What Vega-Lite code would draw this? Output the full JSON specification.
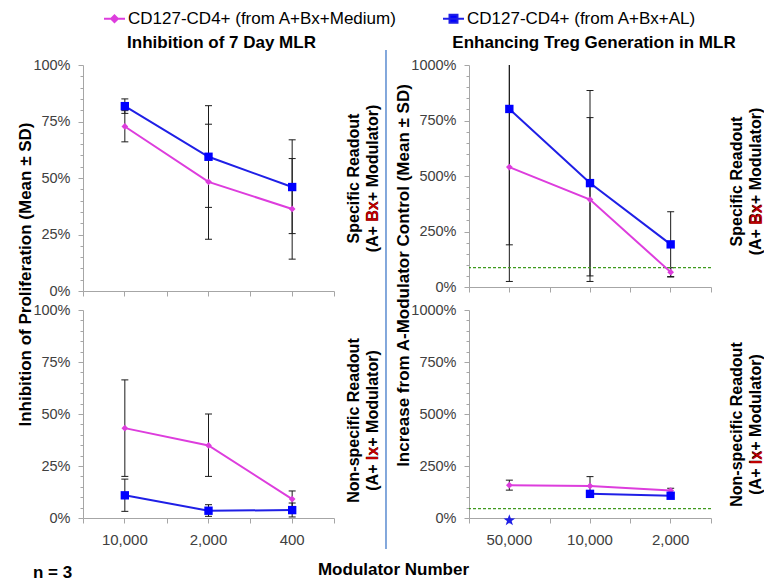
{
  "$schema": "https://vega.github.io/schema/vega-lite/v6.json",
  "padding": {"left": 15, "top": 7, "right": 0, "bottom": 0},
  "background": "white",
  "datasets": {
    "tl": [
      {"dose": "10,000", "series": "CD127-CD4+ (from A+Bx+Medium)", "mean": 72.8, "lo": 66, "hi": 79.8},
      {"dose": "2,000", "series": "CD127-CD4+ (from A+Bx+Medium)", "mean": 48.3, "lo": 22.9, "hi": 73.8},
      {"dose": "400", "series": "CD127-CD4+ (from A+Bx+Medium)", "mean": 36.3, "lo": 14.1, "hi": 58.6},
      {"dose": "10,000", "series": "CD127-CD4+ (from A+Bx+AL)", "mean": 81.8, "lo": 78.6, "hi": 85},
      {"dose": "2,000", "series": "CD127-CD4+ (from A+Bx+AL)", "mean": 59.4, "lo": 37, "hi": 82},
      {"dose": "400", "series": "CD127-CD4+ (from A+Bx+AL)", "mean": 46, "lo": 25.4, "hi": 66.9}
    ],
    "bl": [
      {"dose": "10,000", "series": "CD127-CD4+ (from A+Bx+Medium)", "mean": 43.2, "lo": 20, "hi": 66.4},
      {"dose": "2,000", "series": "CD127-CD4+ (from A+Bx+Medium)", "mean": 34.9, "lo": 20, "hi": 50},
      {"dose": "400", "series": "CD127-CD4+ (from A+Bx+Medium)", "mean": 9.1, "lo": 5.5, "hi": 13},
      {"dose": "10,000", "series": "CD127-CD4+ (from A+Bx+AL)", "mean": 10.9, "lo": 3.2, "hi": 18.7},
      {"dose": "2,000", "series": "CD127-CD4+ (from A+Bx+AL)", "mean": 3.5, "lo": 0.8, "hi": 6.4},
      {"dose": "400", "series": "CD127-CD4+ (from A+Bx+AL)", "mean": 3.8, "lo": 0.5, "hi": 7.2}
    ],
    "tr": [
      {"dose": "50,000", "series": "CD127-CD4+ (from A+Bx+Medium)", "mean": 540, "lo": 25, "hi": 1055},
      {"dose": "10,000", "series": "CD127-CD4+ (from A+Bx+Medium)", "mean": 394, "lo": 25, "hi": 763},
      {"dose": "2,000", "series": "CD127-CD4+ (from A+Bx+Medium)", "mean": 67, "lo": 47, "hi": 87},
      {"dose": "50,000", "series": "CD127-CD4+ (from A+Bx+AL)", "mean": 802, "lo": 190, "hi": 1414},
      {"dose": "10,000", "series": "CD127-CD4+ (from A+Bx+AL)", "mean": 468, "lo": 50, "hi": 885},
      {"dose": "2,000", "series": "CD127-CD4+ (from A+Bx+AL)", "mean": 192, "lo": 45, "hi": 339}
    ],
    "br": [
      {"dose": "50,000", "series": "CD127-CD4+ (from A+Bx+Medium)", "mean": 158, "lo": 134, "hi": 182},
      {"dose": "10,000", "series": "CD127-CD4+ (from A+Bx+Medium)", "mean": 154, "lo": 109, "hi": 199},
      {"dose": "2,000", "series": "CD127-CD4+ (from A+Bx+Medium)", "mean": 132, "lo": 121, "hi": 143},
      {"dose": "10,000", "series": "CD127-CD4+ (from A+Bx+AL)", "mean": 116, "lo": 106, "hi": 126},
      {"dose": "2,000", "series": "CD127-CD4+ (from A+Bx+AL)", "mean": 107, "lo": 97, "hi": 117}
    ],
    "brStar": [
      {"dose": "50,000", "series": "CD127-CD4+ (from A+Bx+AL)", "value": -11}
    ]
  },
  "columns": 2,
  "spacing": {"row": 19, "column": 135},
  "bounds": "flush",
  "concat": [
    {
      "width": 251, "height": 226,
      "title": {"text": "Inhibition of  7 Day MLR", "frame": "group", "anchor": "middle", "dx": 13, "offset": 5},
      "data": {"name": "tl"},
      "layer": [
        {"mark": {"type": "rule", "color": "#1a1a1a", "strokeWidth": 1, "clip": true},
         "encoding": {
           "x": {"field": "dose", "type": "ordinal", "sort": ["10,000", "2,000", "400"], "scale": {"type": "band", "domain": ["10,000", "2,000", "400"], "paddingInner": 0, "paddingOuter": 0}, "axis": {"orient": "bottom", "labels": false, "title": null, "tickSize": 5}},
           "y": {"field": "lo", "type": "quantitative", "scale": {"domain": [0, 100]}, "axis": {"orient": "left", "values": [0, 25, 50, 75, 100], "labelExpr": "datum.value + '%'", "tickSize": 5, "labelPadding": 8, "title": "Inhibition of Proliferation (Mean ± SD)", "titleAngle": 270, "titleX": -58, "titleY": 209, "titleAlign": "center", "titleBaseline": "middle"}},
           "y2": {"field": "hi"}}},
        {"mark": {"type": "tick", "orient": "horizontal", "color": "#1a1a1a", "size": 7, "thickness": 1, "opacity": 1, "clip": true},
         "encoding": {
           "x": {"field": "dose", "type": "ordinal", "sort": ["10,000", "2,000", "400"], "scale": {"type": "band", "domain": ["10,000", "2,000", "400"], "paddingInner": 0, "paddingOuter": 0}, "axis": {"orient": "bottom", "tickBand": "extent", "labels": false, "domain": false, "title": null, "tickSize": 5}},
           "y": {"field": "lo", "type": "quantitative", "scale": {"domain": [0, 100]}, "axis": {"orient": "left", "values": [5, 10, 15, 20, 30, 35, 40, 45, 55, 60, 65, 70, 80, 85, 90, 95], "labels": false, "domain": false, "title": null, "tickSize": 3}}}},
        {"mark": {"type": "tick", "orient": "horizontal", "color": "#1a1a1a", "size": 7, "thickness": 1, "opacity": 1, "clip": true},
         "encoding": {
           "x": {"field": "dose", "type": "ordinal", "sort": ["10,000", "2,000", "400"], "scale": {"type": "band", "domain": ["10,000", "2,000", "400"], "paddingInner": 0, "paddingOuter": 0}, "axis": {"orient": "top", "labels": false, "ticks": false, "domain": false, "title": "Bx", "titleColor": "#c00000", "titleFontSize": 16, "titleAngle": 270, "titleX": 289, "titleY": 146, "titleAlign": "center", "titleBaseline": "middle", "zindex": 2}},
           "y": {"field": "hi", "type": "quantitative", "scale": {"domain": [0, 100]}, "axis": {"orient": "right", "labels": false, "ticks": false, "domain": false, "title": ["Specific Readout", "(A+ Bx+ Modulator)"], "titleFontSize": 16, "titleAngle": 270, "titleX": 19, "titleY": 113, "titleAlign": "center", "titleBaseline": "middle", "titleLineHeight": 19, "zindex": 1}}}},
        {"mark": {"type": "line", "strokeWidth": 2},
         "encoding": {
           "x": {"field": "dose", "type": "ordinal", "sort": ["10,000", "2,000", "400"], "scale": {"type": "band", "domain": ["10,000", "2,000", "400"], "paddingInner": 0, "paddingOuter": 0}, "axis": null},
           "y": {"field": "mean", "type": "quantitative", "scale": {"domain": [0, 100]}, "axis": null},
           "color": {"field": "series", "type": "nominal", "scale": {"domain": ["CD127-CD4+ (from A+Bx+Medium)", "CD127-CD4+ (from A+Bx+AL)"], "range": ["#dd3ddd", "#1f1fe6"]},
             "legend": {"orient": "none", "legendX": 20, "legendY": -58, "direction": "horizontal", "title": null, "labelFontSize": 17, "labelLimit": 0, "labelColor": "#000000", "symbolSize": 441, "symbolStrokeWidth": 2, "columnPadding": 42, "labelOffset": 2,
               "encoding": {"symbols": {
                 "shape": {"value": {"expr": "datum.value === 'CD127-CD4+ (from A+Bx+AL)' ? 'M-1,0H1M-0.38,-0.38H0.38V0.38H-0.38Z' : 'M-1,0H1M0,-0.32L0.32,0L0,0.32L-0.32,0Z'"}},
                 "fill": {"value": {"expr": "datum.value === 'CD127-CD4+ (from A+Bx+AL)' ? '#0000ff' : '#dd3ddd'"}},
                 "stroke": {"value": {"expr": "datum.value === 'CD127-CD4+ (from A+Bx+AL)' ? '#1f1fe6' : '#dd3ddd'"}},
                 "strokeWidth": {"value": 2}}}}}}},
        {"transform": [{"filter": {"field": "series", "equal": "CD127-CD4+ (from A+Bx+Medium)"}}],
         "mark": {"type": "point", "filled": true, "opacity": 1, "shape": "diamond", "size": 45, "color": "#dd3ddd"},
         "encoding": {
           "x": {"field": "dose", "type": "ordinal", "sort": ["10,000", "2,000", "400"], "scale": {"type": "band", "domain": ["10,000", "2,000", "400"], "paddingInner": 0, "paddingOuter": 0}, "axis": null},
           "y": {"field": "mean", "type": "quantitative", "scale": {"domain": [0, 100]}, "axis": null}}},
        {"transform": [{"filter": {"field": "series", "equal": "CD127-CD4+ (from A+Bx+AL)"}}],
         "mark": {"type": "point", "filled": true, "opacity": 1, "shape": "square", "size": 70, "color": "#0000ff"},
         "encoding": {
           "x": {"field": "dose", "type": "ordinal", "sort": ["10,000", "2,000", "400"], "scale": {"type": "band", "domain": ["10,000", "2,000", "400"], "paddingInner": 0, "paddingOuter": 0}, "axis": null},
           "y": {"field": "mean", "type": "quantitative", "scale": {"domain": [0, 100]}, "axis": null}}}
      ],
      "resolve": {"axis": {"x": "independent", "y": "independent"}}
    },
    {
      "width": 242, "height": 222,
      "title": {"text": "Enhancing Treg Generation in MLR", "frame": "group", "anchor": "middle", "dx": 4, "offset": 5},
      "data": {"name": "tr"},
      "layer": [
        {"mark": {"type": "rule", "color": "#1a1a1a", "strokeWidth": 1, "clip": true},
         "encoding": {
           "x": {"field": "dose", "type": "ordinal", "sort": ["50,000", "10,000", "2,000"], "scale": {"type": "band", "domain": ["50,000", "10,000", "2,000"], "paddingInner": 0, "paddingOuter": 0}, "axis": {"orient": "bottom", "labels": false, "title": null, "tickSize": 5}},
           "y": {"field": "lo", "type": "quantitative", "scale": {"domain": [0, 1000]}, "axis": {"orient": "left", "values": [0, 250, 500, 750, 1000], "labelExpr": "datum.value + '%'", "tickSize": 5, "labelPadding": 8, "title": "Increase from A-Modulator Control (Mean ± SD)", "titleAngle": 270, "titleX": -66, "titleY": 210, "titleAlign": "center", "titleBaseline": "middle"}},
           "y2": {"field": "hi"}}},
        {"mark": {"type": "tick", "orient": "horizontal", "color": "#1a1a1a", "size": 7, "thickness": 1, "opacity": 1, "clip": true},
         "encoding": {
           "x": {"field": "dose", "type": "ordinal", "sort": ["50,000", "10,000", "2,000"], "scale": {"type": "band", "domain": ["50,000", "10,000", "2,000"], "paddingInner": 0, "paddingOuter": 0}, "axis": {"orient": "bottom", "tickBand": "extent", "labels": false, "domain": false, "title": null, "tickSize": 5}},
           "y": {"field": "lo", "type": "quantitative", "scale": {"domain": [0, 1000]}, "axis": {"orient": "left", "values": [50, 100, 150, 200, 300, 350, 400, 450, 550, 600, 650, 700, 800, 850, 900, 950], "labels": false, "domain": false, "title": null, "tickSize": 3}}}},
        {"mark": {"type": "tick", "orient": "horizontal", "color": "#1a1a1a", "size": 7, "thickness": 1, "opacity": 1, "clip": true},
         "encoding": {
           "x": {"field": "dose", "type": "ordinal", "sort": ["50,000", "10,000", "2,000"], "scale": {"type": "band", "domain": ["50,000", "10,000", "2,000"], "paddingInner": 0, "paddingOuter": 0}, "axis": {"orient": "top", "labels": false, "ticks": false, "domain": false, "title": "Bx", "titleColor": "#c00000", "titleFontSize": 16, "titleAngle": 270, "titleX": 287, "titleY": 149, "titleAlign": "center", "titleBaseline": "middle", "zindex": 2}},
           "y": {"field": "hi", "type": "quantitative", "scale": {"domain": [0, 1000]}, "axis": {"orient": "right", "labels": false, "ticks": false, "domain": false, "title": ["Specific Readout", "(A+ Bx+ Modulator)"], "titleFontSize": 16, "titleAngle": 270, "titleX": 25, "titleY": 116, "titleAlign": "center", "titleBaseline": "middle", "titleLineHeight": 19, "zindex": 1}}}},
        {"data": {"values": [{}]},
         "mark": {"type": "rule", "color": "#3f9a1f", "strokeWidth": 1.2, "strokeDash": [3, 2]},
         "encoding": {"y": {"datum": 87, "type": "quantitative", "scale": {"domain": [0, 1000]}, "axis": null}}},
        {"mark": {"type": "line", "strokeWidth": 2},
         "encoding": {
           "x": {"field": "dose", "type": "ordinal", "sort": ["50,000", "10,000", "2,000"], "scale": {"type": "band", "domain": ["50,000", "10,000", "2,000"], "paddingInner": 0, "paddingOuter": 0}, "axis": null},
           "y": {"field": "mean", "type": "quantitative", "scale": {"domain": [0, 1000]}, "axis": null},
           "color": {"field": "series", "type": "nominal", "scale": {"domain": ["CD127-CD4+ (from A+Bx+Medium)", "CD127-CD4+ (from A+Bx+AL)"], "range": ["#dd3ddd", "#1f1fe6"]},
             "legend": {"orient": "none", "legendX": 20, "legendY": -58, "direction": "horizontal", "title": null, "labelFontSize": 17, "labelLimit": 0, "labelColor": "#000000", "symbolSize": 441, "symbolStrokeWidth": 2, "columnPadding": 42, "labelOffset": 2,
               "encoding": {"symbols": {
                 "shape": {"value": {"expr": "datum.value === 'CD127-CD4+ (from A+Bx+AL)' ? 'M-1,0H1M-0.38,-0.38H0.38V0.38H-0.38Z' : 'M-1,0H1M0,-0.32L0.32,0L0,0.32L-0.32,0Z'"}},
                 "fill": {"value": {"expr": "datum.value === 'CD127-CD4+ (from A+Bx+AL)' ? '#0000ff' : '#dd3ddd'"}},
                 "stroke": {"value": {"expr": "datum.value === 'CD127-CD4+ (from A+Bx+AL)' ? '#1f1fe6' : '#dd3ddd'"}},
                 "strokeWidth": {"value": 2}}}}}}},
        {"transform": [{"filter": {"field": "series", "equal": "CD127-CD4+ (from A+Bx+Medium)"}}],
         "mark": {"type": "point", "filled": true, "opacity": 1, "shape": "diamond", "size": 45, "color": "#dd3ddd"},
         "encoding": {
           "x": {"field": "dose", "type": "ordinal", "sort": ["50,000", "10,000", "2,000"], "scale": {"type": "band", "domain": ["50,000", "10,000", "2,000"], "paddingInner": 0, "paddingOuter": 0}, "axis": null},
           "y": {"field": "mean", "type": "quantitative", "scale": {"domain": [0, 1000]}, "axis": null}}},
        {"transform": [{"filter": {"field": "series", "equal": "CD127-CD4+ (from A+Bx+AL)"}}],
         "mark": {"type": "point", "filled": true, "opacity": 1, "shape": "square", "size": 70, "color": "#0000ff"},
         "encoding": {
           "x": {"field": "dose", "type": "ordinal", "sort": ["50,000", "10,000", "2,000"], "scale": {"type": "band", "domain": ["50,000", "10,000", "2,000"], "paddingInner": 0, "paddingOuter": 0}, "axis": null},
           "y": {"field": "mean", "type": "quantitative", "scale": {"domain": [0, 1000]}, "axis": null}}}
      ],
      "resolve": {"axis": {"x": "independent", "y": "independent"}}
    },
    {
      "width": 251, "height": 208,
      "data": {"name": "bl"},
      "layer": [
        {"mark": {"type": "rule", "color": "#1a1a1a", "strokeWidth": 1, "clip": true},
         "encoding": {
           "x": {"field": "dose", "type": "ordinal", "sort": ["10,000", "2,000", "400"], "scale": {"type": "band", "domain": ["10,000", "2,000", "400"], "paddingInner": 0, "paddingOuter": 0}, "axis": {"orient": "bottom", "labels": true, "labelAngle": 0, "labelFontSize": 15, "labelPadding": 9, "tickSize": 5, "title": "Modulator Number", "titleX": 310, "titleY": 51, "titleAlign": "center", "titleBaseline": "middle"}},
           "y": {"field": "lo", "type": "quantitative", "scale": {"domain": [0, 100]}, "axis": {"orient": "left", "values": [0, 25, 50, 75, 100], "labelExpr": "datum.value + '%'", "tickSize": 5, "labelPadding": 8, "title": null}},
           "y2": {"field": "hi"}}},
        {"mark": {"type": "tick", "orient": "horizontal", "color": "#1a1a1a", "size": 7, "thickness": 1, "opacity": 1, "clip": true},
         "encoding": {
           "x": {"field": "dose", "type": "ordinal", "sort": ["10,000", "2,000", "400"], "scale": {"type": "band", "domain": ["10,000", "2,000", "400"], "paddingInner": 0, "paddingOuter": 0}, "axis": {"orient": "bottom", "tickBand": "extent", "labels": false, "domain": false, "tickSize": 5, "title": "n = 3", "titleX": -31, "titleY": 54, "titleAlign": "center", "titleBaseline": "middle"}},
           "y": {"field": "lo", "type": "quantitative", "scale": {"domain": [0, 100]}, "axis": {"orient": "left", "values": [5, 10, 15, 20, 30, 35, 40, 45, 55, 60, 65, 70, 80, 85, 90, 95], "labels": false, "domain": false, "title": null, "tickSize": 3}}}},
        {"mark": {"type": "tick", "orient": "horizontal", "color": "#1a1a1a", "size": 7, "thickness": 1, "opacity": 1, "clip": true},
         "encoding": {
           "x": {"field": "dose", "type": "ordinal", "sort": ["10,000", "2,000", "400"], "scale": {"type": "band", "domain": ["10,000", "2,000", "400"], "paddingInner": 0, "paddingOuter": 0}, "axis": {"orient": "top", "labels": false, "ticks": false, "domain": false, "title": "Ix", "titleColor": "#c00000", "titleFontSize": 16, "titleAngle": 270, "titleX": 289, "titleY": 143, "titleAlign": "center", "titleBaseline": "middle", "zindex": 2}},
           "y": {"field": "hi", "type": "quantitative", "scale": {"domain": [0, 100]}, "axis": {"orient": "right", "labels": false, "ticks": false, "domain": false, "title": ["Non-specific Readout", "(A+ Ix+ Modulator)"], "titleFontSize": 16, "titleAngle": 270, "titleX": 19, "titleY": 110, "titleAlign": "center", "titleBaseline": "middle", "titleLineHeight": 19, "zindex": 1}}}},
        {"mark": {"type": "line", "strokeWidth": 2},
         "encoding": {
           "x": {"field": "dose", "type": "ordinal", "sort": ["10,000", "2,000", "400"], "scale": {"type": "band", "domain": ["10,000", "2,000", "400"], "paddingInner": 0, "paddingOuter": 0}, "axis": null},
           "y": {"field": "mean", "type": "quantitative", "scale": {"domain": [0, 100]}, "axis": null},
           "color": {"field": "series", "type": "nominal", "scale": {"domain": ["CD127-CD4+ (from A+Bx+Medium)", "CD127-CD4+ (from A+Bx+AL)"], "range": ["#dd3ddd", "#1f1fe6"]},
             "legend": {"orient": "none", "legendX": 20, "legendY": -58, "direction": "horizontal", "title": null, "labelFontSize": 17, "labelLimit": 0, "labelColor": "#000000", "symbolSize": 441, "symbolStrokeWidth": 2, "columnPadding": 42, "labelOffset": 2,
               "encoding": {"symbols": {
                 "shape": {"value": {"expr": "datum.value === 'CD127-CD4+ (from A+Bx+AL)' ? 'M-1,0H1M-0.38,-0.38H0.38V0.38H-0.38Z' : 'M-1,0H1M0,-0.32L0.32,0L0,0.32L-0.32,0Z'"}},
                 "fill": {"value": {"expr": "datum.value === 'CD127-CD4+ (from A+Bx+AL)' ? '#0000ff' : '#dd3ddd'"}},
                 "stroke": {"value": {"expr": "datum.value === 'CD127-CD4+ (from A+Bx+AL)' ? '#1f1fe6' : '#dd3ddd'"}},
                 "strokeWidth": {"value": 2}}}}}}},
        {"transform": [{"filter": {"field": "series", "equal": "CD127-CD4+ (from A+Bx+Medium)"}}],
         "mark": {"type": "point", "filled": true, "opacity": 1, "shape": "diamond", "size": 45, "color": "#dd3ddd"},
         "encoding": {
           "x": {"field": "dose", "type": "ordinal", "sort": ["10,000", "2,000", "400"], "scale": {"type": "band", "domain": ["10,000", "2,000", "400"], "paddingInner": 0, "paddingOuter": 0}, "axis": null},
           "y": {"field": "mean", "type": "quantitative", "scale": {"domain": [0, 100]}, "axis": null}}},
        {"transform": [{"filter": {"field": "series", "equal": "CD127-CD4+ (from A+Bx+AL)"}}],
         "mark": {"type": "point", "filled": true, "opacity": 1, "shape": "square", "size": 70, "color": "#0000ff"},
         "encoding": {
           "x": {"field": "dose", "type": "ordinal", "sort": ["10,000", "2,000", "400"], "scale": {"type": "band", "domain": ["10,000", "2,000", "400"], "paddingInner": 0, "paddingOuter": 0}, "axis": null},
           "y": {"field": "mean", "type": "quantitative", "scale": {"domain": [0, 100]}, "axis": null}}}
      ],
      "resolve": {"axis": {"x": "independent", "y": "independent"}}
    },
    {
      "width": 242, "height": 208,
      "layer": [
        {
          "data": {"name": "br"},
          "layer": [
            {"mark": {"type": "rule", "color": "#1a1a1a", "strokeWidth": 1, "clip": true},
             "encoding": {
               "x": {"field": "dose", "type": "ordinal", "sort": ["50,000", "10,000", "2,000"], "scale": {"type": "band", "domain": ["50,000", "10,000", "2,000"], "paddingInner": 0, "paddingOuter": 0}, "axis": {"orient": "bottom", "labels": true, "labelAngle": 0, "labelFontSize": 15, "labelPadding": 9, "tickSize": 5, "title": null}},
               "y": {"field": "lo", "type": "quantitative", "scale": {"domain": [0, 1000]}, "axis": {"orient": "left", "values": [0, 250, 500, 750, 1000], "labelExpr": "datum.value + '%'", "tickSize": 5, "labelPadding": 8, "title": null}},
               "y2": {"field": "hi"}}},
            {"mark": {"type": "tick", "orient": "horizontal", "color": "#1a1a1a", "size": 7, "thickness": 1, "opacity": 1, "clip": true},
             "encoding": {
               "x": {"field": "dose", "type": "ordinal", "sort": ["50,000", "10,000", "2,000"], "scale": {"type": "band", "domain": ["50,000", "10,000", "2,000"], "paddingInner": 0, "paddingOuter": 0}, "axis": {"orient": "bottom", "tickBand": "extent", "labels": false, "domain": false, "title": null, "tickSize": 5}},
               "y": {"field": "lo", "type": "quantitative", "scale": {"domain": [0, 1000]}, "axis": {"orient": "left", "values": [50, 100, 150, 200, 300, 350, 400, 450, 550, 600, 650, 700, 800, 850, 900, 950], "labels": false, "domain": false, "title": null, "tickSize": 3}}}},
            {"mark": {"type": "tick", "orient": "horizontal", "color": "#1a1a1a", "size": 7, "thickness": 1, "opacity": 1, "clip": true},
             "encoding": {
               "x": {"field": "dose", "type": "ordinal", "sort": ["50,000", "10,000", "2,000"], "scale": {"type": "band", "domain": ["50,000", "10,000", "2,000"], "paddingInner": 0, "paddingOuter": 0}, "axis": {"orient": "top", "labels": false, "ticks": false, "domain": false, "title": "Ix", "titleColor": "#c00000", "titleFontSize": 16, "titleAngle": 270, "titleX": 287, "titleY": 147, "titleAlign": "center", "titleBaseline": "middle", "zindex": 2}},
               "y": {"field": "hi", "type": "quantitative", "scale": {"domain": [0, 1000]}, "axis": {"orient": "right", "labels": false, "ticks": false, "domain": false, "title": ["Non-specific Readout", "(A+ Ix+ Modulator)"], "titleFontSize": 16, "titleAngle": 270, "titleX": 25, "titleY": 114, "titleAlign": "center", "titleBaseline": "middle", "titleLineHeight": 19, "zindex": 1}}}},
            {"data": {"values": [{}]},
             "mark": {"type": "rule", "color": "#3f9a1f", "strokeWidth": 1.2, "strokeDash": [3, 2]},
             "encoding": {"y": {"datum": 45, "type": "quantitative", "scale": {"domain": [0, 1000]}, "axis": null}}},
            {"mark": {"type": "line", "strokeWidth": 2},
             "encoding": {
               "x": {"field": "dose", "type": "ordinal", "sort": ["50,000", "10,000", "2,000"], "scale": {"type": "band", "domain": ["50,000", "10,000", "2,000"], "paddingInner": 0, "paddingOuter": 0}, "axis": null},
               "y": {"field": "mean", "type": "quantitative", "scale": {"domain": [0, 1000]}, "axis": null},
               "color": {"field": "series", "type": "nominal", "scale": {"domain": ["CD127-CD4+ (from A+Bx+Medium)", "CD127-CD4+ (from A+Bx+AL)"], "range": ["#dd3ddd", "#1f1fe6"]},
                 "legend": {"orient": "none", "legendX": 20, "legendY": -58, "direction": "horizontal", "title": null, "labelFontSize": 17, "labelLimit": 0, "labelColor": "#000000", "symbolSize": 441, "symbolStrokeWidth": 2, "columnPadding": 42, "labelOffset": 2,
                   "encoding": {"symbols": {
                     "shape": {"value": {"expr": "datum.value === 'CD127-CD4+ (from A+Bx+AL)' ? 'M-1,0H1M-0.38,-0.38H0.38V0.38H-0.38Z' : 'M-1,0H1M0,-0.32L0.32,0L0,0.32L-0.32,0Z'"}},
                     "fill": {"value": {"expr": "datum.value === 'CD127-CD4+ (from A+Bx+AL)' ? '#0000ff' : '#dd3ddd'"}},
                     "stroke": {"value": {"expr": "datum.value === 'CD127-CD4+ (from A+Bx+AL)' ? '#1f1fe6' : '#dd3ddd'"}},
                     "strokeWidth": {"value": 2}}}}}}},
            {"transform": [{"filter": {"field": "series", "equal": "CD127-CD4+ (from A+Bx+Medium)"}}],
             "mark": {"type": "point", "filled": true, "opacity": 1, "shape": "diamond", "size": 45, "color": "#dd3ddd"},
             "encoding": {
               "x": {"field": "dose", "type": "ordinal", "sort": ["50,000", "10,000", "2,000"], "scale": {"type": "band", "domain": ["50,000", "10,000", "2,000"], "paddingInner": 0, "paddingOuter": 0}, "axis": null},
               "y": {"field": "mean", "type": "quantitative", "scale": {"domain": [0, 1000]}, "axis": null}}},
            {"transform": [{"filter": {"field": "series", "equal": "CD127-CD4+ (from A+Bx+AL)"}}],
             "mark": {"type": "point", "filled": true, "opacity": 1, "shape": "square", "size": 70, "color": "#0000ff"},
             "encoding": {
               "x": {"field": "dose", "type": "ordinal", "sort": ["50,000", "10,000", "2,000"], "scale": {"type": "band", "domain": ["50,000", "10,000", "2,000"], "paddingInner": 0, "paddingOuter": 0}, "axis": null},
               "y": {"field": "mean", "type": "quantitative", "scale": {"domain": [0, 1000]}, "axis": null}}},
            {"data": {"name": "brStar"},
             "mark": {"type": "point", "filled": true, "opacity": 1, "color": "#1f1fe6", "size": 150, "shape": "M0,-1L0.235,-0.324L0.951,-0.309L0.38,0.124L0.588,0.809L0,0.4L-0.588,0.809L-0.38,0.124L-0.951,-0.309L-0.235,-0.324Z"},
             "encoding": {
               "x": {"field": "dose", "type": "ordinal", "sort": ["50,000", "10,000", "2,000"], "scale": {"type": "band", "domain": ["50,000", "10,000", "2,000"], "paddingInner": 0, "paddingOuter": 0}, "axis": null},
               "y": {"field": "value", "type": "quantitative", "scale": {"domain": [0, 1000]}, "axis": null}}}
          ],
          "resolve": {"axis": {"x": "independent", "y": "independent"}}
        },
        {
          "data": {"values": [{}]},
          "mark": {"type": "rule", "color": "#5b8bd0", "strokeWidth": 1.5},
          "encoding": {
            "x": {"datum": -0.343, "type": "quantitative", "scale": {"domain": [0, 1]}, "axis": null},
            "y": {"datum": 2250, "type": "quantitative", "scale": {"domain": [0, 1000]}, "axis": null},
            "y2": {"datum": -149}
          }
        }
      ],
      "resolve": {"scale": {"x": "independent"}, "axis": {"x": "independent", "y": "independent"}}
    }
  ],
  "config": {
    "font": "Liberation Sans",
    "view": {"stroke": null},
    "axis": {"grid": false, "domainColor": "#a6a6a6", "tickColor": "#a6a6a6", "labelColor": "#404040", "labelFontSize": 14.5, "labelFont": "Liberation Sans", "titleFont": "Liberation Sans", "titleFontSize": 17, "titleFontWeight": "bold", "titleColor": "#000000"},
    "title": {"font": "Liberation Sans", "fontSize": 17, "fontWeight": "bold", "color": "#000000"},
    "legend": {"labelFont": "Liberation Sans"}
  }
}
